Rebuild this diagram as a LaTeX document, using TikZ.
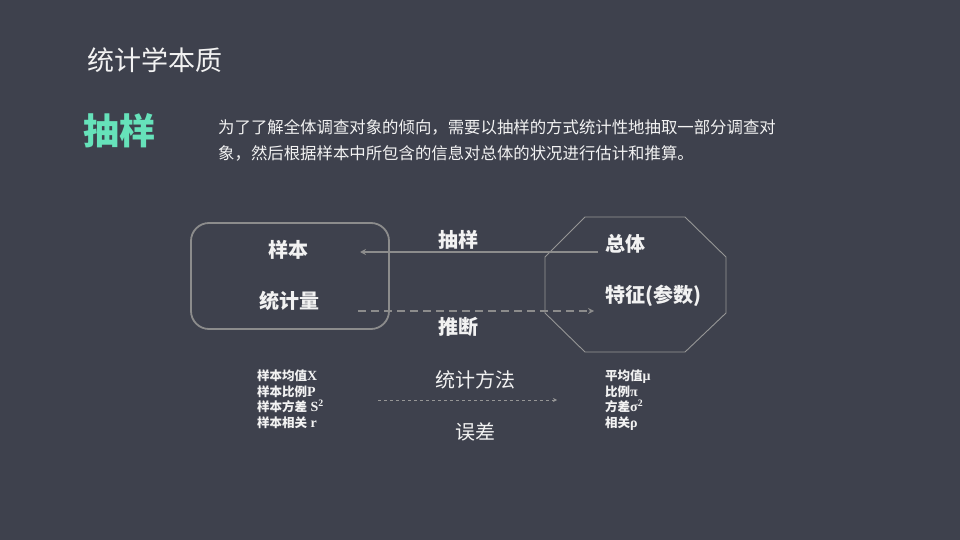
\documentclass[tikz,border=0pt]{standalone}
\usepackage{fontspec}
\setmainfont{Liberation Serif}
\newfontfamily\cjk{Noto Sans CJK SC}
\usetikzlibrary{arrows.meta}
\definecolor{bg}{RGB}{62,65,77}
\definecolor{accent}{RGB}{102,226,186}
\definecolor{txt}{RGB}{242,242,242}
\definecolor{linegray}{RGB}{140,140,140}
\definecolor{octgray}{RGB}{150,150,150}
\newcommand{\lat}[1]{{\rmfamily\bfseries\fontsize{14}{15.5}\selectfont #1}}
\begin{document}
\begin{tikzpicture}[x=1pt,y=-1pt,
  every node/.style={inner sep=0pt, text=txt, font=\cjk},
  lbl/.style={font=\cjk\bfseries\fontsize{20}{24}\selectfont},
  mid/.style={font=\cjk\fontsize{20}{24}\selectfont},
  lst/.style={anchor=north west, align=left, font=\cjk\bfseries\fontsize{12.5}{15.5}\selectfont},
  arr/.style={draw=linegray, line width=1.8pt, -{Stealth[length=6pt,width=6pt]}},
  darr/.style={draw=linegray, line width=1.8pt, dash pattern=on 8pt off 5pt, -{Stealth[length=6pt,width=6pt]}},
  tarr/.style={draw=octgray, line width=0.9pt, dash pattern=on 3pt off 3pt, -{Stealth[length=4pt,width=4pt]}}
]
\fill[bg] (0,0) rectangle (960,540);
\useasboundingbox (0,0) rectangle (960,540);

\node[anchor=west, font=\cjk\fontsize{27}{30}\selectfont] (title) at (87,60) {统计学本质};
\node[anchor=west, font=\cjk\bfseries\fontsize{36}{40}\selectfont, text=accent] (kw) at (83,131) {抽样};
\node[anchor=west, font=\cjk\fontsize{16.4}{20}\selectfont] (para1) at (218,127) {为了了解全体调查对象的倾向，需要以抽样的方式统计性地抽取一部分调查对};
\node[anchor=west, font=\cjk\fontsize{16.4}{20}\selectfont] (para2) at (218,153) {象，然后根据样本中所包含的信息对总体的状况进行估计和推算。};

% sample box
\node[draw=linegray, line width=1.8pt, rounded corners=18pt, minimum width=198pt, minimum height=106pt] (sbox) at (290,276) {};
% population octagon
\draw[draw=octgray, line width=0.9pt] (585,217) -- (685,217) -- (726,257) -- (726,313) -- (685,352) -- (585,352) -- (545,313) -- (545,257) -- cycle;

\node[lbl] (sample) at (288,250) {样本};
\node[lbl] (stat) at (289,301) {统计量};
\node[lbl] (sampling) at (458,240) {抽样};
\node[lbl] (infer) at (458,327) {推断};
\node[lbl, anchor=west] (pop) at (605,244) {总体};
\node[lbl, anchor=west] (param) at (605,296) {特征(参数)};

\coordinate (a1s) at (598,252);
\coordinate (a1e) at (360,252);
\draw[arr] (a1s) -- (a1e);
\coordinate (a2s) at (358,311);
\coordinate (a2e) at (594,311);
\draw[darr] (a2s) -- (a2e);

\node[lst] (slist) at (257,370) {样本均值\lat{X}\\样本比例\lat{P}\\样本方差\lat{\ S\textsuperscript{2}}\\样本相关\lat{\ r}};
\node[lst] (plist) at (605,370) {平均值\lat{μ}\\比例\lat{π}\\方差\lat{σ\textsuperscript{2}}\\相关\lat{ρ}};

\node[mid] (method) at (475,380) {统计方法};
\node[mid] (err) at (475,432) {误差};
\coordinate (a3s) at (378,400);
\coordinate (a3e) at (557,400);
\draw[tarr] (a3s) -- (a3e);
\end{tikzpicture}
\end{document}
